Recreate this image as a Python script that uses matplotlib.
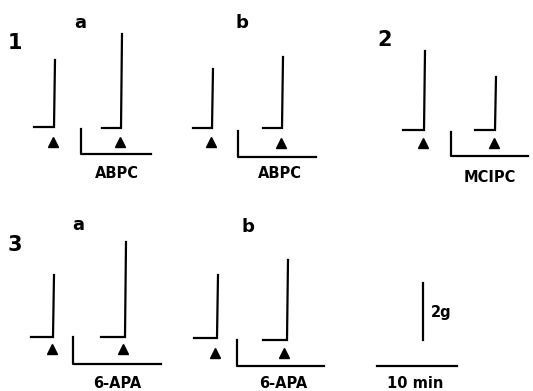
import numpy as np
import matplotlib.pyplot as plt

# contraction traces: baseline start, spike position, baseline level, peak level
base_start = [34, 102, 193, 263, 403, 475, 31, 101, 194, 263]
spike_x = [54, 121, 212, 282, 424, 495, 53, 125, 217, 287]
base_y = [127, 128, 128, 128, 130, 130, 337, 337, 338, 340]
peak_y = [60, 34, 69, 57, 51, 77, 275, 242, 275, 260]

# stimulus markers
tri_x = [53, 120, 211, 281, 423, 494, 52, 123, 215, 284]
tri_y = [142, 142, 142, 143, 143, 143, 349, 349, 353, 353]

# drug application brackets: left, top, bottom, right
br_left = [81, 238, 451, 73, 237]
br_top = [129, 131, 132, 337, 340]
br_bot = [154, 157, 156, 364, 366]
br_right = [151, 316, 528, 161, 324]
drugs = ["ABPC", "ABPC", "MCIPC", "6-APA", "6-APA"]
drug_x = [117, 280, 490, 117, 283]
drug_y = [173, 173, 177, 383, 383]

panels = ["1", "2", "3"]
panel_x = [15, 385, 15]
panel_y = [43, 40, 245]
sub = ["a", "b", "a", "b"]
sub_x = [80, 242, 78, 248]
sub_y = [23, 23, 225, 227]

fig = plt.figure(figsize=(5.33, 3.91), dpi=100)
ax = fig.add_axes([0, 0, 1, 1])
ax.set_xlim(0, 533)
ax.set_ylim(391, 0)
ax.axis('off')

for i in range(len(spike_x)):
   xs = [base_start[i], spike_x[i], spike_x[i] + 1]
   ys = [base_y[i], base_y[i], peak_y[i]]
   ax.plot(xs, ys, color='black', lw=1.6, solid_joinstyle='miter')

ax.plot(tri_x, tri_y, '^', color='black', markersize=7, linestyle='none')

for i in range(len(drugs)):
   ax.plot([br_left[i], br_left[i], br_right[i]],
           [br_top[i], br_bot[i], br_bot[i]], color='black', lw=1.6)
   ax.text(drug_x[i], drug_y[i], drugs[i], ha='center', va='center',
           fontsize=10.5, fontweight='bold')

for t, x, y in zip(panels, panel_x, panel_y):
   ax.text(x, y, t, ha='center', va='center', fontsize=15, fontweight='bold')
for t, x, y in zip(sub, sub_x, sub_y):
   ax.text(x, y, t, ha='center', va='center', fontsize=13, fontweight='bold')

# scale bars
ax.plot([423, 423], [283, 340], color='black', lw=1.6)
ax.text(431, 312, "2g", ha='left', va='center', fontsize=10.5, fontweight='bold')
ax.plot([377, 457], [366, 366], color='black', lw=1.6)
ax.text(415, 384, "10 min", ha='center', va='center', fontsize=10.5, fontweight='bold')

fig.savefig('out.png', dpi=100)
